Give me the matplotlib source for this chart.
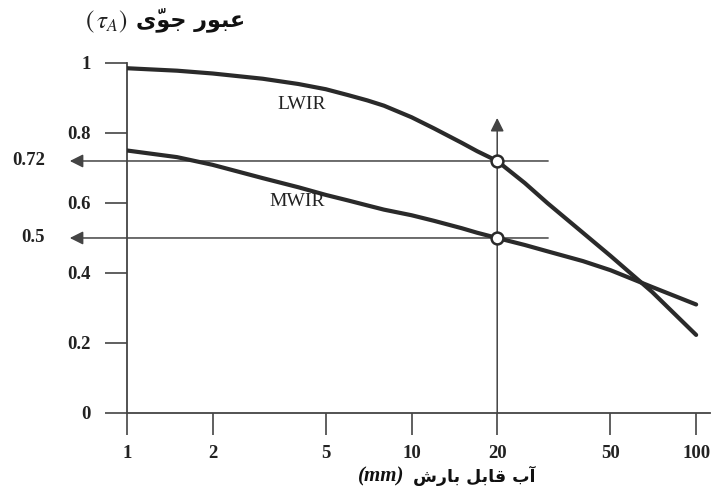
import matplotlib
matplotlib.use("Agg")
import matplotlib.pyplot as plt
from matplotlib.ticker import FixedLocator, NullLocator

# precipitable water (mm) and atmospheric transmittance of each band
water_mm = [1, 1.5, 2, 3, 4, 5, 6, 7, 8, 10, 12, 15, 17, 20, 25, 30, 40, 50, 70, 100]
lwir = [0.985, 0.978, 0.970, 0.955, 0.940, 0.925, 0.908, 0.893, 0.878, 0.845,
        0.813, 0.772, 0.748, 0.72, 0.657, 0.60, 0.515, 0.449, 0.346, 0.223]
mwir = [0.75, 0.731, 0.709, 0.671, 0.645, 0.623, 0.607, 0.593, 0.581, 0.565,
        0.549, 0.528, 0.515, 0.50, 0.480, 0.462, 0.434, 0.408, 0.36, 0.31]

x_ticks = [1, 2, 5, 10, 20, 50, 100]
y_ticks = [0, 0.2, 0.4, 0.6, 0.8, 1]
y_tick_labels = ["0", "0.2", "0.4", "0.6", "0.8", "1"]

read_x = 20
read_values = [0.72, 0.5]
read_labels = ["0.72", "0.5"]

title_fa = "عبور جوّی"
xlabel_fa = "آب قابل بارش"


# minimal Persian shaping: presentation forms + visual (LTR) order
FORMS = {
    "ا": ("\uFE8D", "\uFE8E"),
    "آ": ("\uFE81", "\uFE82"),
    "ر": ("\uFEAD", "\uFEAE"),
    "و": ("\uFEED", "\uFEEE"),
    "ب": ("\uFE8F", "\uFE90", "\uFE91", "\uFE92"),
    "ع": ("\uFEC9", "\uFECA", "\uFECB", "\uFECC"),
    "ج": ("\uFE9D", "\uFE9E", "\uFE9F", "\uFEA0"),
    "ی": ("\uFBFC", "\uFBFD", "\uFBFE", "\uFBFF"),
    "ق": ("\uFED5", "\uFED6", "\uFED7", "\uFED8"),
    "ل": ("\uFEDD", "\uFEDE", "\uFEDF", "\uFEE0"),
    "ش": ("\uFEB5", "\uFEB6", "\uFEB7", "\uFEB8"),
}
MARKS = {"\u0651"}


def shape(text):
    letters = [i for i, c in enumerate(text) if c not in MARKS]
    out = {}
    for k, i in enumerate(letters):
        c = text[i]
        if c not in FORMS:
            out[i] = c
            continue
        prev = text[letters[k - 1]] if k > 0 else None
        nxt = text[letters[k + 1]] if k + 1 < len(letters) else None
        jp = prev in FORMS and len(FORMS[prev]) == 4
        jn = len(FORMS[c]) == 4 and nxt in FORMS
        idx = {(False, False): 0, (True, False): 1, (False, True): 2, (True, True): 3}[(jp, jn)]
        out[i] = FORMS[c][idx]
    clusters = []
    for i, c in enumerate(text):
        if c in MARKS and clusters:
            # zero-width mark goes before its base so it sits on it
            clusters[-1] = c + clusters[-1]
        else:
            clusters.append(out[i])
    return "".join(reversed(clusters))


plt.rcParams["mathtext.fontset"] = "stix"
ink = "#2a2a2a"
thin = "#444444"

fig = plt.figure(figsize=(7.13, 4.94), dpi=100)
ax = fig.add_axes([0.178, 0.164, 0.818, 0.7085])

ax.plot(water_mm, lwir, color=ink, lw=3.0, solid_capstyle="round", zorder=3)
ax.plot(water_mm, mwir, color=ink, lw=3.0, solid_capstyle="round", zorder=3)

ax.set_xscale("log")
ax.set_xlim(1, 112)
ax.set_ylim(0, 1)

for s in ["top", "right"]:
    ax.spines[s].set_visible(False)
for s in ["left", "bottom"]:
    ax.spines[s].set_color(thin)
    ax.spines[s].set_linewidth(1.3)

ax.xaxis.set_major_locator(FixedLocator(x_ticks))
ax.xaxis.set_minor_locator(NullLocator())
ax.set_xticklabels([str(v) for v in x_ticks])
ax.set_yticks(y_ticks)
ax.set_yticklabels(y_tick_labels)
ax.tick_params(axis="both", direction="out", length=16, width=1.2, color=thin,
               labelsize=13.5)
ax.tick_params(axis="y", pad=10)
ax.tick_params(axis="x", pad=7)
for lab in ax.get_xticklabels() + ax.get_yticklabels():
    lab.set_fontfamily("Liberation Serif")
    lab.set_fontweight("bold")
    lab.set_color("#222222")

# read-off lines at 20 mm
arrow = dict(arrowstyle="-|>", mutation_scale=20, lw=1.1, color=thin,
             shrinkA=0, shrinkB=0)
ax.annotate("", xy=(read_x, 0.843), xytext=(read_x, 0), arrowprops=arrow,
            annotation_clip=False, zorder=2)
for v, lab in zip(read_values, read_labels):
    ax.annotate("", xy=(0.63, v), xytext=(30.2, v), arrowprops=arrow,
                annotation_clip=False, zorder=2)
    ax.text(0.515, v, lab, ha="right", va="center", fontsize=13.5,
            fontfamily="Liberation Serif", fontweight="bold", color="#222222",
            clip_on=False)
ax.plot([read_x] * len(read_values), read_values, "o", ms=8.5, mfc="white",
        mec=ink, mew=1.8, zorder=4)

ax.text(4.12, 0.88, "LWIR", ha="center", va="center", fontsize=14,
        fontfamily="Liberation Serif", color="#222222")
ax.text(3.96, 0.603, "MWIR", ha="center", va="center", fontsize=14,
        fontfamily="Liberation Serif", color="#222222")

# axis titles
fig.text(245 / 713, 1 - 20 / 494, shape(title_fa), ha="right", va="center",
         fontsize=16, fontweight="bold", family="DejaVu Sans", color="#111111")
fig.text(128 / 713, 1 - 22 / 494, r"$(\,\tau_{A})$", ha="right", va="center",
         fontsize=18, color="#222222")
fig.text(535 / 713, 1 - 476 / 494, shape(xlabel_fa), ha="right", va="center",
         fontsize=12.5, fontweight="bold", family="DejaVu Sans", color="#111111")
fig.text(404 / 713, 1 - 476 / 494, "(mm)", ha="right", va="center",
         fontsize=15, fontfamily="Liberation Serif", fontstyle="italic",
         fontweight="bold", color="#111111")

fig.savefig("out.png", dpi=100, facecolor="white")
